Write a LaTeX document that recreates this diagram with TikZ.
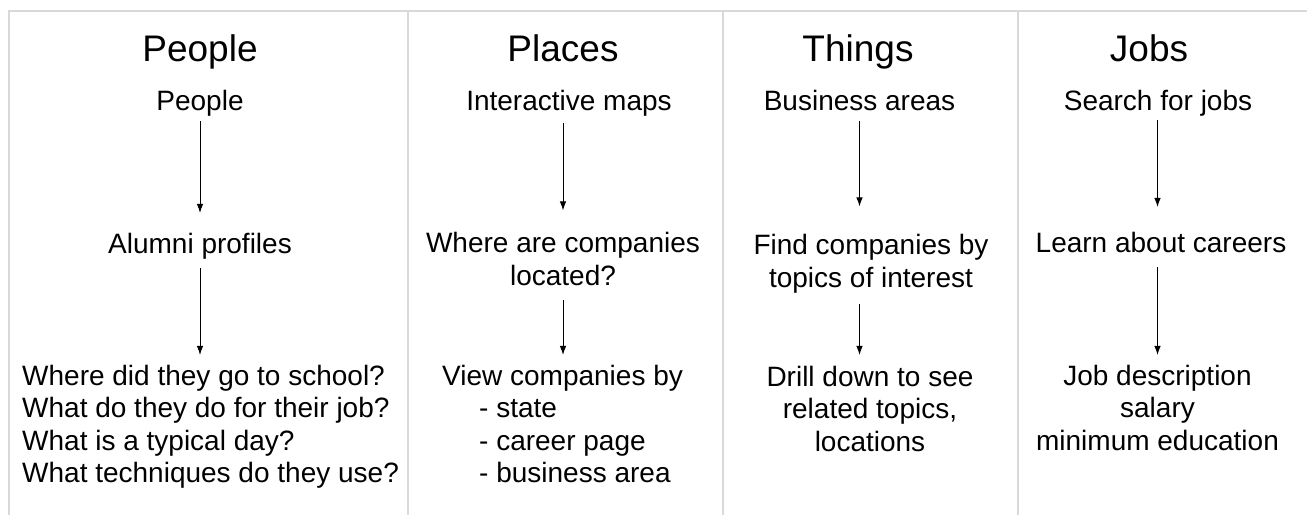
\documentclass[tikz,border=0pt]{standalone}
\usepackage{fontspec}
\setmainfont{Liberation Sans}
\usetikzlibrary{arrows.meta}
\definecolor{rulegray}{HTML}{D9D9D9}

\begin{document}
\begin{tikzpicture}[x=1pt, y=-1pt, >={Latex[length=9pt,width=6.5pt]}]
  \tikzstyle{every node}=[inner sep=0pt, font=\fontsize{28}{32.5}\selectfont]
  \tikzstyle{head}=[font=\fontsize{37}{40}\selectfont]
  \tikzstyle{rule}=[draw=rulegray, line width=1.5pt]
  \tikzstyle{flow}=[->, line width=0.9pt]
  \useasboundingbox (0,0) rectangle (1307,515);
  %% frame and column rules
  \draw[rule] (9,515) -- (9,11) -- (1307,11);
  \draw[rule] (408,11) -- (408,515);
  \draw[rule] (723,11) -- (723,515);
  \draw[rule] (1018,11) -- (1018,515);
  %% titles
  \node (hd_people) at (200,61) [head, anchor=base] {People};
  \node (hd_places) at (563,61) [head, anchor=base] {Places};
  \node (hd_things) at (858,61) [head, anchor=base] {Things};
  \node (hd_jobs) at (1149,61) [head, anchor=base] {Jobs};
  %% people (base of a multi-line node = its last line)
  \node (ppl_1) at (200,110) [anchor=base] {People};
  \node (ppl_2) at (200,253) [anchor=base] {Alumni profiles};
  \node (ppl_3) at (22,482.5) [anchor=base west, align=left] {Where did they go to school?\\What do they do for their job?\\What is a typical day?\\What techniques do they use?};
  %% places
  \node (plc_1) at (569,110) [anchor=base] {Interactive maps};
  \node (plc_2) at (563,285) [anchor=base, align=center] {Where are companies\\located?};
  \node (plc_3) at (442,482.5) [anchor=base west, align=left] {View companies by\\\hspace*{37pt}- state\\\hspace*{37pt}- career page\\\hspace*{37pt}- business area};
  %% things
  \node (thg_1) at (859.5,110.5) [anchor=base] {Business areas};
  \node (thg_2) at (871,287) [anchor=base, align=center] {Find companies by\\topics of interest};
  \node (thg_3) at (870,451) [anchor=base, align=center] {Drill down to see\\related topics,\\locations};
  %% jobs
  \node (job_1) at (1158,110) [anchor=base] {Search for jobs};
  \node (job_2) at (1161,252) [anchor=base] {Learn about careers};
  \node (job_3) at (1157.5,450) [anchor=base, align=center] {Job description\\salary\\minimum education};
  %% arrows
  \draw[flow, shorten <=5pt, shorten >=19.6pt] (ppl_1.south) -- (ppl_1.south |- ppl_2.north);
  \draw[flow, shorten <=9pt, shorten >=9.6pt] (ppl_2.south) -- (ppl_2.south |- ppl_3.north);
  \draw[flow, shorten <=7pt, shorten >=21.6pt] (plc_2.north |- plc_1.south) -- (plc_2.north);
  \draw[flow, shorten <=15pt, shorten >=9.6pt] (plc_2.south) -- (plc_2.south |- plc_3.north);
  \draw[flow, shorten <=10pt, shorten >=27.6pt] (thg_1.south) -- (thg_1.south |- thg_2.north);
  \draw[flow, shorten <=10.6pt, shorten >=10.6pt] (thg_1.south |- thg_2.south) -- (thg_1.south |- thg_3.north);
  \draw[flow, shorten <=4pt, shorten >=24.6pt] (job_3.north |- job_1.south) -- (job_3.north |- job_2.north);
  \draw[flow, shorten <=15pt, shorten >=9.6pt] (job_3.north |- job_2.south) -- (job_3.north);
\end{tikzpicture}
\end{document}
